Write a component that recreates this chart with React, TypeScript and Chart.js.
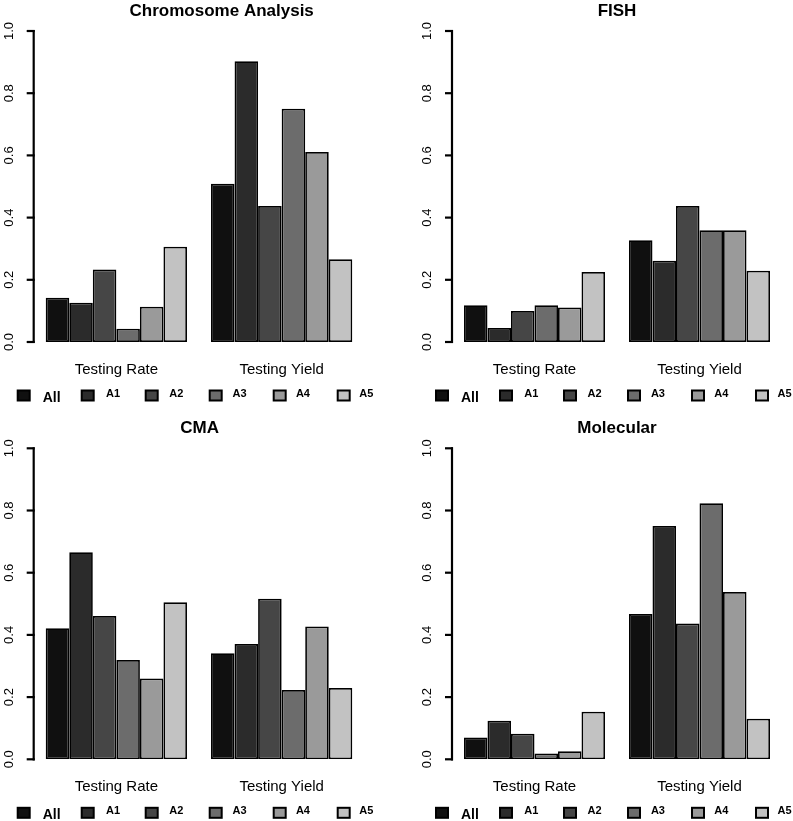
import React, { useEffect, useRef } from "react";
import { Chart, registerables } from "chart.js";

Chart.register(...registerables);

const groups = ["Testing Rate", "Testing Yield"];
const seriesNames = ["All", "A1", "A2", "A3", "A4", "A5"];
const seriesColors = ["#101010", "#2b2b2b", "#464646", "#6c6c6c", "#9a9a9a", "#c2c2c2"];
const yTickValues = [0, 0.2, 0.4, 0.6, 0.8, 1.0];
const yTickLabels = ["0.0", "0.2", "0.4", "0.6", "0.8", "1.0"];

const chromosomeRate = [0.142, 0.126, 0.233, 0.043, 0.113, 0.306];
const chromosomeYield = [0.509, 0.903, 0.437, 0.75, 0.611, 0.266];
const fishRate = [0.118, 0.045, 0.1, 0.118, 0.111, 0.225];
const fishYield = [0.327, 0.261, 0.437, 0.359, 0.359, 0.229];
const cmaRate = [0.421, 0.666, 0.461, 0.319, 0.26, 0.505];
const cmaYield = [0.341, 0.371, 0.516, 0.223, 0.427, 0.229];
const molecularRate = [0.07, 0.124, 0.082, 0.019, 0.026, 0.153];
const molecularYield = [0.467, 0.75, 0.437, 0.823, 0.538, 0.13];

const FONT = '"Liberation Sans", Arial, Helvetica, sans-serif';

type PanelProps = {
  title: string;
  titleOffset: number;
  rate: number[];
  yieldVals: number[];
  left: number;
  top: number;
  width: number;
  height: number;
  padding: { left: number; right: number; top: number; bottom: number };
};

const decorPlugin = {
  id: "rDecor",
  afterDraw(chart: any, _args: any, opts: any) {
    const ctx = chart.ctx as CanvasRenderingContext2D;
    const area = chart.chartArea;
    const y = chart.scales.y;
    const x = chart.scales.x;
    const axisX = area.left;
    const y0 = y.getPixelForValue(0);
    const y1 = y.getPixelForValue(1);
    ctx.save();
    ctx.strokeStyle = "#000";
    ctx.fillStyle = "#000";
    ctx.lineWidth = 2.2;
    ctx.lineCap = "butt";
    // axis line
    ctx.beginPath();
    ctx.moveTo(axisX, y0 + 1.1);
    ctx.lineTo(axisX, y1 - 1.1);
    ctx.stroke();
    // ticks and labels
    ctx.font = `13px ${FONT}`;
    ctx.textAlign = "center";
    ctx.textBaseline = "alphabetic";
    yTickValues.forEach((v, i) => {
      const py = y.getPixelForValue(v);
      ctx.beginPath();
      ctx.moveTo(axisX - 7, py);
      ctx.lineTo(axisX + 1, py);
      ctx.stroke();
      ctx.save();
      ctx.translate(axisX - 21, py);
      ctx.rotate(-Math.PI / 2);
      ctx.fillText(yTickLabels[i], 0, 0);
      ctx.restore();
    });
    // title
    ctx.font = `bold 17px ${FONT}`;
    ctx.textAlign = "center";
    ctx.fillText(opts.title, axisX + opts.titleOffset, area.top - 15);
    // group labels
    ctx.font = `15px ${FONT}`;
    groups.forEach((g, j) => {
      ctx.fillText(g, x.getPixelForValue(j), y0 + 32);
    });
    // legend
    ctx.textAlign = "left";
    ctx.lineWidth = 2;
    seriesNames.forEach((name, i) => {
      const bx = axisX - 16 + i * 64;
      const by = y0 + 48.5;
      ctx.fillStyle = seriesColors[i];
      ctx.fillRect(bx, by, 12, 10);
      ctx.strokeStyle = "#000";
      ctx.strokeRect(bx, by, 12, 10);
      ctx.fillStyle = "#000";
      const tx = axisX + 9 + i * 63.3;
      if (i === 0) {
        ctx.font = `bold 14px ${FONT}`;
        ctx.fillText(name, tx, y0 + 59.5);
      } else {
        ctx.font = `bold 11px ${FONT}`;
        ctx.fillText(name, tx, y0 + 54.5);
      }
    });
    ctx.restore();
  },
};

function Panel(props: PanelProps) {
  const ref = useRef<HTMLCanvasElement | null>(null);
  useEffect(() => {
    if (!ref.current) return;
    const chart = new Chart(ref.current, {
      type: "bar",
      data: {
        labels: groups,
        datasets: seriesNames.map((name, i) => ({
          label: name,
          data: [props.rate[i], props.yieldVals[i]],
          backgroundColor: seriesColors[i],
          borderColor: "#000",
          borderWidth: 1.75,
          borderSkipped: false,
          categoryPercentage: 6 / 7.02,
          barPercentage: 1,
        })),
      },
      options: {
        responsive: false,
        animation: false,
        layout: { padding: props.padding },
        scales: {
          x: { display: false, offset: true },
          y: { display: false, min: 0, max: 1 },
        },
        plugins: {
          legend: { display: false },
          tooltip: { enabled: false },
          rDecor: { title: props.title, titleOffset: props.titleOffset },
        } as any,
      },
      plugins: [decorPlugin],
    });
    return () => chart.destroy();
  }, []);
  return (
    <canvas
      ref={ref}
      width={props.width}
      height={props.height}
      style={{ position: "absolute", left: props.left, top: props.top, width: props.width, height: props.height }}
    />
  );
}

export default function App() {
  return (
    <div style={{ position: "absolute", left: 0, top: 0, width: 793, height: 821, background: "#fff" }}>
      <Panel
        title="Chromosome Analysis"
        titleOffset={188}
        rate={chromosomeRate}
        yieldVals={chromosomeYield}
        left={0}
        top={0}
        width={396}
        height={410}
        padding={{ left: 33.7, right: 31.7, top: 31, bottom: 68 }}
      />
      <Panel
        title="FISH"
        titleOffset={165}
        rate={fishRate}
        yieldVals={fishYield}
        left={396}
        top={0}
        width={397}
        height={410}
        padding={{ left: 56, right: 11, top: 31, bottom: 68 }}
      />
      <Panel
        title="CMA"
        titleOffset={166}
        rate={cmaRate}
        yieldVals={cmaYield}
        left={0}
        top={410}
        width={396}
        height={411}
        padding={{ left: 33.7, right: 31.7, top: 38.3, bottom: 61.7 }}
      />
      <Panel
        title="Molecular"
        titleOffset={165}
        rate={molecularRate}
        yieldVals={molecularYield}
        left={396}
        top={410}
        width={397}
        height={411}
        padding={{ left: 56, right: 11, top: 38.3, bottom: 61.7 }}
      />
    </div>
  );
}
